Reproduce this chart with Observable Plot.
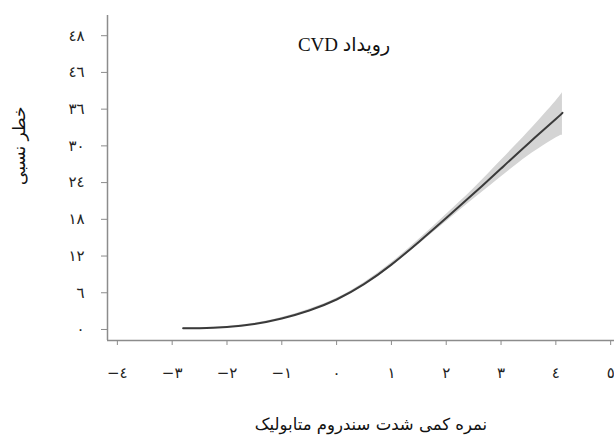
<!DOCTYPE html>
<html>
<head>
<meta charset="utf-8">
<script src="https://cdn.jsdelivr.net/npm/d3@7"></script>
<script src="https://cdn.jsdelivr.net/npm/@observablehq/plot@0.6"></script>
<style>
  html, body { margin: 0; padding: 0; background: #fff; }
  #chart svg { display: block; }
</style>
</head>
<body>
<div id="chart"></div>
<script>
// Ticks and their Persian labels
const xTicks = [-4, -3, -2, -1, 0, 1, 2, 3, 4, 5];
const xTickLabels = ["−٤", "−٣", "−٢", "−١", "٠", "١", "٢", "٣", "٤", "٥"];
const yTicks = [0, 6, 12, 18, 24, 30, 36, 42, 48];
const yTickLabels = ["٠", "٦", "١٢", "١٨", "٢٤", "٣٠", "٣٦", "٤٦", "٤٨"];

// Metabolic syndrome severity score and relative risk of CVD, with confidence band
const score = [-2.8, -2.5, -2, -1.5, -1, -0.5, 0, 0.5, 1, 1.5, 2, 2.5, 3, 3.5, 4, 4.12];
const risk  = [0.2, 0.2, 0.4, 0.9, 1.8, 3.1, 4.9, 7.4, 10.6, 14.3, 18.2, 22.2, 26.3, 30.4, 34.4, 35.4];
const lower = [0.1, 0.1, 0.3, 0.8, 1.65, 2.9, 4.7, 7.15, 10.3, 13.9, 17.6, 21.3, 24.9, 28.4, 31.3, 31.7];
const upper = [0.3, 0.3, 0.5, 1.0, 1.95, 3.3, 5.1, 7.65, 10.9, 14.7, 18.8, 23.0, 27.6, 32.3, 37.3, 38.7];

const title = "\u202Bرویداد CVD\u202C";
const xTitle = "نمره کمی شدت سندروم متابولیک";
const yTitle = "خطر نسبی";

const xDomain = [-4.18, 5.07];
const yDomain = [-1.8, 51.3];

const rows = score.map((s, i) => ({score: s, risk: risk[i], lower: lower[i], upper: upper[i]}));

const axisColor = "#8c8c8c";
const arabicFont = "'DejaVu Sans', sans-serif";

const chart = Plot.plot({
  width: 614,
  height: 437,
  marginLeft: 107,
  marginRight: 0,
  marginTop: 15,
  marginBottom: 97,
  x: {domain: xDomain, label: null},
  y: {domain: yDomain, label: null},
  style: {background: "#fff"},
  marks: [
    Plot.areaY(rows, {x: "score", y1: "lower", y2: "upper", fill: "#d4d4d4", curve: "natural"}),
    Plot.line(rows, {x: "score", y: "risk", stroke: "#3a3a3a", strokeWidth: 2, curve: "natural"}),
    Plot.ruleX([xDomain[0]], {stroke: axisColor, strokeWidth: 1.5}),
    Plot.ruleY([yDomain[0]], {stroke: axisColor, strokeWidth: 1.5}),
    Plot.axisX(xTicks, {
      tickFormat: d => xTickLabels[xTicks.indexOf(d)],
      tickSize: 5, tickPadding: 22, stroke: axisColor, label: null,
      fontSize: 15, fontFamily: arabicFont, fill: "#222"
    }),
    Plot.axisY(yTicks, {
      tickFormat: d => yTickLabels[yTicks.indexOf(d)],
      tickSize: 6, tickPadding: 17, stroke: axisColor, label: null,
      fontSize: 15, fontFamily: arabicFont, fill: "#222"
    }),
    Plot.text([title], {frameAnchor: "top", dy: 22, dx: -17, fontSize: 19,
      fontFamily: "'Liberation Serif', 'DejaVu Sans', serif", fill: "#111"}),
    Plot.text([xTitle], {frameAnchor: "bottom", dy: 89, dx: 10, fontSize: 16.5,
      fontFamily: arabicFont, fill: "#111"}),
    Plot.text([yTitle], {frameAnchor: "left", dx: -88, dy: 7, rotate: -90, fontSize: 17,
      fontFamily: arabicFont, fill: "#111"})
  ]
});

document.getElementById("chart").append(chart);
</script>
</body>
</html>
